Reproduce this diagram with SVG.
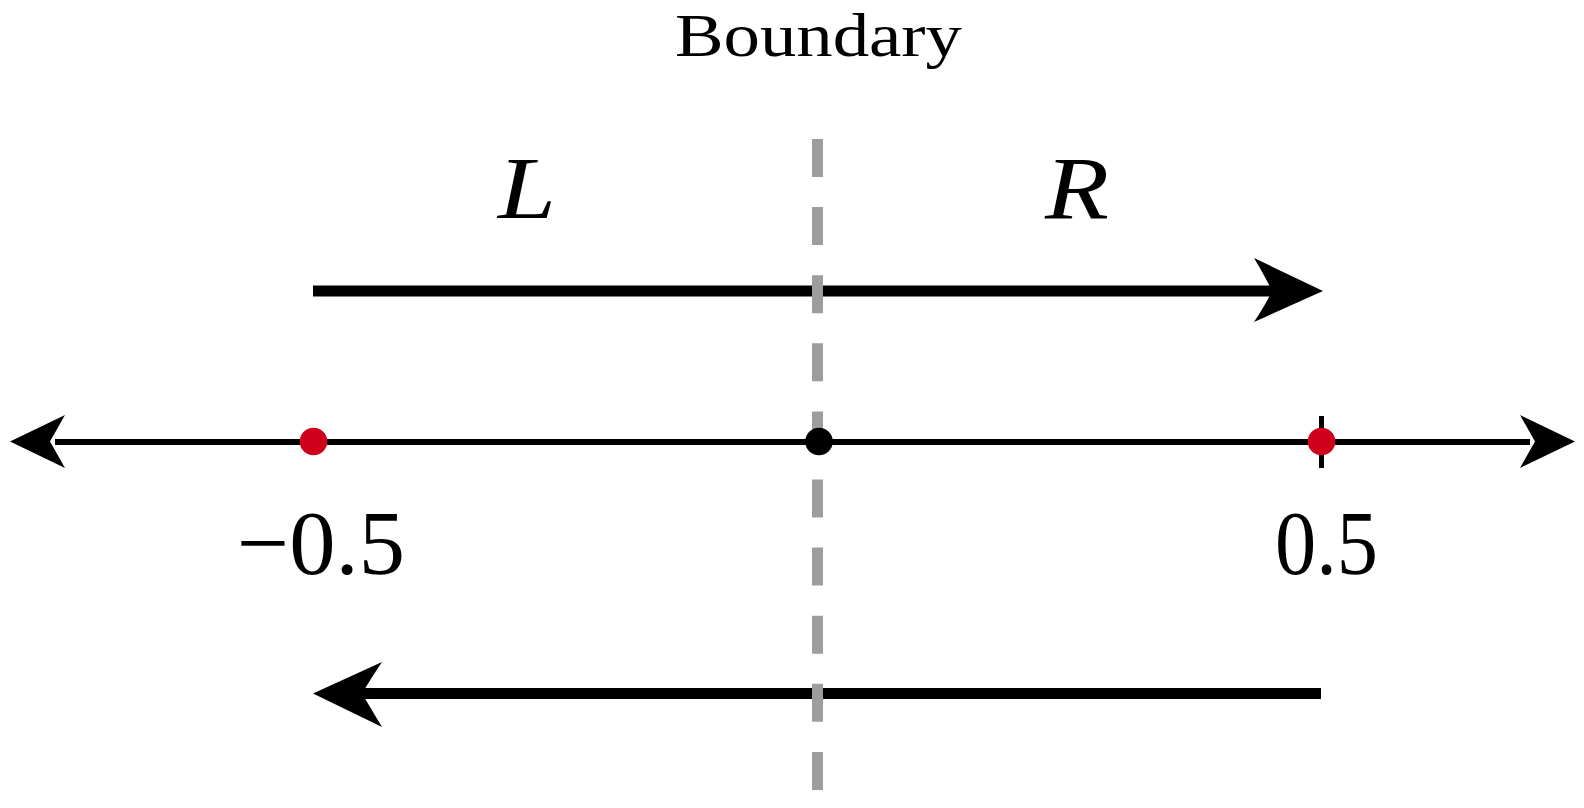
<svg xmlns="http://www.w3.org/2000/svg" width="1584" height="808" viewBox="0 0 1584 808">
<style>
.txt{font-family:"Liberation Serif","DejaVu Serif",serif;fill:#000}
.cal{font-family:"Liberation Serif","DejaVu Serif",serif;font-style:italic;fill:#000}
.shaft{stroke:#000;fill:none}
.head{fill:#000;stroke:none}
.red{fill:#d0001c}
</style>
<rect width="1584" height="808" fill="#fff"/>
<g id="connectors">
  <line class="shaft" x1="313" y1="291" x2="1280" y2="291" stroke-width="11"/>
  <path class="head" d="M1323 291 L1254 258 Q1266 278 1272 291 Q1266 304 1254 322 Z"/>
  <line class="shaft" x1="1321" y1="693.5" x2="356" y2="693.5" stroke-width="11"/>
  <path class="head" d="M313 693.5 L382 662 Q370 680 362 693.5 Q370 707 382 727 Z"/>
  <line class="shaft" x1="55" y1="442" x2="1530" y2="442" stroke-width="6"/>
  <path class="head" d="M10 441.5 L65 415 Q56 431 50 441.5 Q56 452 65 468 Z"/>
  <path class="head" d="M1575 441.5 L1520 415 Q1529 431 1535 441.5 Q1529 452 1520 468 Z"/>
  <line class="shaft" x1="1321.5" y1="416" x2="1321.5" y2="468" stroke-width="5"/>
  <line id="boundary-line" x1="817.5" y1="139" x2="817.5" y2="791" stroke="#9d9d9d" stroke-width="11" stroke-dasharray="38 30.1"/>
</g>
<g id="title"><text class="txt" x="818.5" y="56" font-size="62" text-anchor="middle" textLength="287" lengthAdjust="spacingAndGlyphs">Boundary</text></g>
<g id="L-label"><text class="cal" x="498" y="218" font-size="88" textLength="58" lengthAdjust="spacingAndGlyphs">L</text></g>
<g id="R-label"><text class="cal" x="1045" y="218" font-size="88" textLength="64" lengthAdjust="spacingAndGlyphs">R</text></g>
<g id="point-left">
  <circle class="red" cx="313.5" cy="441.5" r="13.8"/>
  <text class="txt" x="237" y="574" font-size="92" textLength="168" lengthAdjust="spacingAndGlyphs">−0.5</text>
</g>
<g id="point-center"><circle cx="819" cy="441.5" r="13.8" fill="#000"/></g>
<g id="point-right">
  <circle class="red" cx="1321.5" cy="441.5" r="13.8"/>
  <text class="txt" x="1275" y="574" font-size="92" textLength="103" lengthAdjust="spacingAndGlyphs">0.5</text>
</g>
</svg>
